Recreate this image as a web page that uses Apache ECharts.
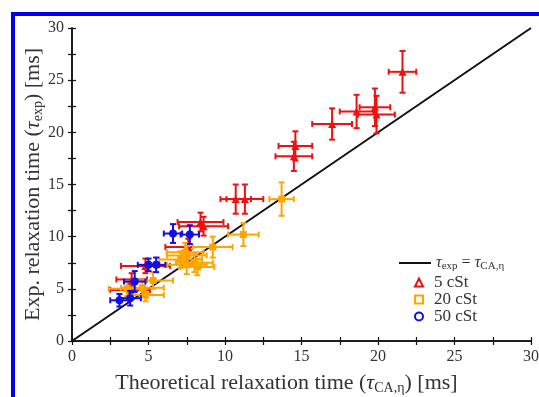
<!DOCTYPE html>
<html>
<head>
<meta charset="utf-8">
<script src="https://cdn.jsdelivr.net/npm/echarts@6/dist/echarts.min.js"></script>
<style>
  html, body { margin: 0; padding: 0; background: #fff; }
  #chart { width: 539px; height: 397px; }
</style>
</head>
<body>
<div id="chart"></div>
<script>
// [x, y, xErr, yErr] in ms
const cst5 = [
  [3.8, 4.9, 1.3, 0.6],
  [3.9, 5.9, 1.0, 0.6],
  [4.8, 7.2, 1.6, 0.7],
  [7.6, 9.0, 1.5, 0.8],
  [8.4, 11.4, 1.5, 0.9],
  [8.6, 11.0, 1.6, 0.9],
  [10.7, 13.6, 1.0, 1.4],
  [11.3, 13.6, 1.2, 1.4],
  [14.6, 18.7, 1.1, 1.4],
  [14.5, 17.7, 1.2, 1.4],
  [17.0, 20.8, 1.3, 1.5],
  [18.6, 22.0, 1.1, 1.6],
  [19.8, 22.4, 1.0, 1.8],
  [19.9, 21.7, 1.2, 1.8],
  [21.6, 25.8, 0.9, 2.0]
];
const cst20 = [
  [3.6, 5.0, 1.2, 0.7],
  [4.8, 4.4, 1.2, 0.6],
  [4.6, 5.1, 1.4, 0.7],
  [5.3, 5.8, 1.3, 0.8],
  [7.1, 7.8, 1.4, 0.8],
  [7.5, 8.2, 1.3, 0.9],
  [7.5, 7.3, 1.3, 0.9],
  [8.0, 7.5, 1.2, 0.9],
  [8.2, 7.1, 1.1, 0.8],
  [7.4, 8.5, 1.2, 0.9],
  [9.2, 9.0, 1.3, 1.0],
  [11.2, 10.2, 1.0, 1.1],
  [13.7, 13.6, 0.8, 1.6]
];
const cst50 = [
  [3.1, 3.9, 0.6, 0.6],
  [3.8, 4.1, 0.7, 0.7],
  [4.1, 5.7, 0.7, 1.0],
  [5.0, 7.3, 0.7, 0.6],
  [5.5, 7.3, 0.6, 0.7],
  [6.6, 10.3, 0.6, 0.9],
  [7.7, 10.2, 0.6, 0.9]
];
const diagLine = [[0, 0], [30, 30]];
const labelValues = [0, 5, 10, 15, 20, 25, 30];
const tickValues = [0, 2.5, 5, 7.5, 10, 12.5, 15, 17.5, 20, 22.5, 25, 27.5, 30];

const RED = '#f01010';
const ORANGE = '#ffa500';
const BLUE = '#1010e6';
const SERIF = '"Liberation Serif", "DejaVu Serif", serif';
const TXT = '#333';

const chart = echarts.init(document.getElementById('chart'));

// error bars with caps
function errorBars(color) {
  return function (params, api) {
    const x = api.value(0), y = api.value(1), ex = api.value(2), ey = api.value(3);
    const l = api.coord([x - ex, y]), r = api.coord([x + ex, y]);
    const t = api.coord([x, y + ey]), b = api.coord([x, y - ey]);
    const cap = 3;
    const st = { stroke: color, lineWidth: 2 };
    const ln = (x1, y1, x2, y2) => ({ type: 'line', shape: { x1, y1, x2, y2 }, style: st });
    return {
      type: 'group',
      children: [
        ln(l[0], l[1], r[0], r[1]),
        ln(t[0], t[1], b[0], b[1]),
        ln(l[0], l[1] - cap, l[0], l[1] + cap),
        ln(r[0], r[1] - cap, r[0], r[1] + cap),
        ln(t[0] - cap, t[1], t[0] + cap, t[1]),
        ln(b[0] - cap, b[1], b[0] + cap, b[1])
      ]
    };
  };
}

function groupSeries(name, data, color, symbol, size, z) {
  return [
    {
      type: 'custom',
      name: name,
      data: data,
      z: z,
      renderItem: errorBars(color),
      encode: { x: 0, y: 1 },
      silent: true
    },
    {
      type: 'scatter',
      name: name,
      data: data.map(d => [d[0], d[1]]),
      symbol: symbol,
      symbolSize: size,
      itemStyle: { color: color, opacity: 1 },
      z: z + 1
    }
  ];
}

function mkAxis(position, labelled) {
  return {
    type: 'value',
    position: position,
    min: 0,
    max: 30,
    interval: 5,
    axisLine: { show: true, lineStyle: { color: '#111', width: 1.5 } },
    axisTick: { show: true, inside: true, length: 4, customValues: tickValues, lineStyle: { color: '#111', width: 1.2 } },
    axisLabel: labelled
      ? { show: true, customValues: labelValues, color: TXT, fontFamily: SERIF, fontSize: 16, margin: 8 }
      : { show: false },
    splitLine: { show: false }
  };
}

const subRich = {
  t: { fontFamily: SERIF, fontSize: 22, color: TXT },
  i: { fontFamily: SERIF, fontSize: 22, color: TXT, fontStyle: 'italic' },
  s: { fontFamily: SERIF, fontSize: 14, color: TXT, padding: [10, 0, 0, 0] }
};

const xMain = Object.assign(mkAxis('bottom', true), {
  name: '{t|Theoretical relaxation time (}{i|τ}{s|CA,η}{t|) [ms]}',
  nameLocation: 'middle',
  nameGap: 30,
  nameTextStyle: { rich: subRich, padding: [0, 30, 0, 0] }
});
const yMain = Object.assign(mkAxis('left', true), {
  name: '{t|Exp. relaxation time (}{i|τ}{s|exp}{t|) [ms]}',
  nameLocation: 'middle',
  nameGap: 27,
  nameMoveOverlap: false,
  nameRotate: 90,
  nameTextStyle: { rich: subRich }
});

const option = {
  animation: false,
  backgroundColor: '#fff',
  grid: { left: 72, right: 8, top: 28, bottom: 56, outerBoundsMode: 'none', containLabel: false },
  graphic: [
    { type: 'rect', shape: { x: 11, y: 12, width: 528, height: 4 }, style: { fill: '#0000f0' } },
    { type: 'rect', shape: { x: 11, y: 12, width: 4, height: 385 }, style: { fill: '#0000f0' } }
  ],
  xAxis: [xMain, mkAxis('top', false)],
  yAxis: [yMain, mkAxis('right', false)],
  legend: [
    {
      data: [{ name: 'diag', icon: 'rect' }],
      orient: 'vertical',
      left: 394,
      top: 250,
      itemWidth: 32,
      itemHeight: 2,
      itemGap: 4,
      formatter: () => '{i|τ}{s|exp}{t| = }{i|τ}{s|CA,η}',
      textStyle: {
        rich: {
          t: { fontFamily: SERIF, fontSize: 16, color: TXT },
          i: { fontFamily: SERIF, fontSize: 16, color: TXT, fontStyle: 'italic' },
          s: { fontFamily: SERIF, fontSize: 11, color: TXT, padding: [7, 0, 0, 0] }
        }
      }
    },
    {
      data: [
        { name: '5 cSt', icon: 'triangle', itemStyle: { color: '#fff', borderColor: RED, borderWidth: 2 } },
        { name: '20 cSt', icon: 'rect', itemStyle: { color: '#fff', borderColor: ORANGE, borderWidth: 2 } },
        { name: '50 cSt', icon: 'circle', itemStyle: { color: '#fff', borderColor: BLUE, borderWidth: 2 } }
      ],
      orient: 'vertical',
      left: 409,
      top: 269,
      itemWidth: 8,
      itemHeight: 8,
      itemGap: 0,
      textStyle: { fontFamily: SERIF, fontSize: 17, color: TXT, lineHeight: 15, padding: [0, 0, 0, 6] }
    }
  ],
  series: [
    {
      type: 'line',
      name: 'diag',
      data: diagLine,
      showSymbol: false,
      symbol: 'none',
      lineStyle: { color: '#111', width: 2 },
      itemStyle: { color: '#111' },
      z: 1
    },
    ...groupSeries('5 cSt', cst5, RED, 'triangle', 8, 2),
    ...groupSeries('20 cSt', cst20, ORANGE, 'rect', 7, 4),
    ...groupSeries('50 cSt', cst50, BLUE, 'circle', 8, 6)
  ]
};

chart.setOption(option);
</script>
</body>
</html>
